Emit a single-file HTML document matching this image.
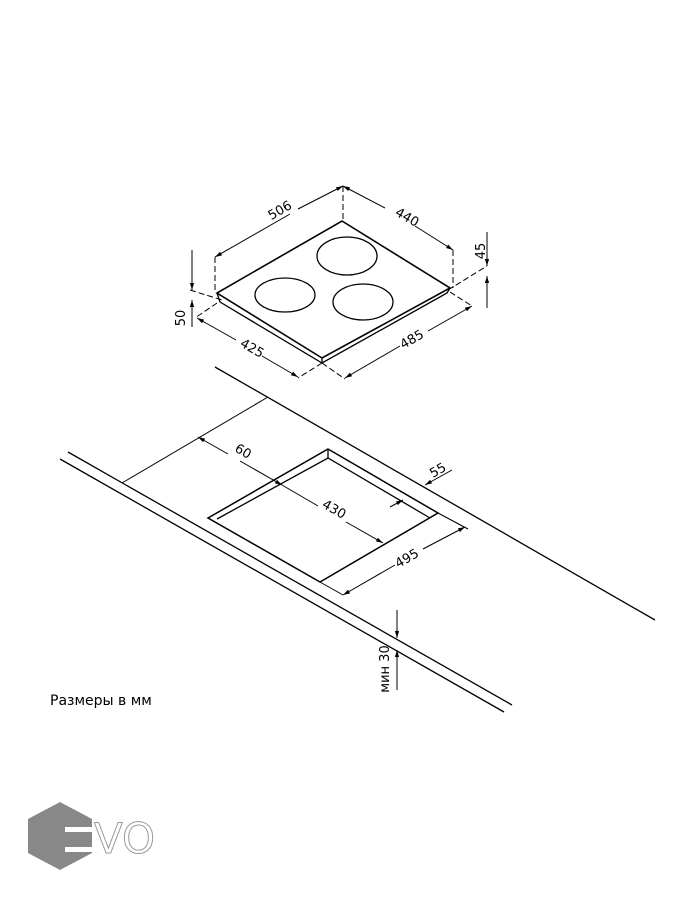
<!DOCTYPE html>
<html><head><meta charset="utf-8"><style>
html,body{margin:0;padding:0;background:#fff;}
svg{display:block;}
text{font-family:"DejaVu Sans","Liberation Sans",sans-serif;}
</style></head><body>
<svg width="700" height="900" viewBox="0 0 700 900" xmlns="http://www.w3.org/2000/svg">
<defs>
<marker id="a" viewBox="0 0 10 10" refX="10" refY="5" markerWidth="7" markerHeight="7" orient="auto-start-reverse"><path d="M0,2 L10,5 L0,8 z" fill="#000"/></marker>
</defs>
<g stroke="#000" fill="none" stroke-width="1.3">
<!-- hob -->
<polygon points="342,221 450,288 322,358 217,293" stroke-width="1.6"/>
<polyline points="217,293 220,302 322,363 447,293 450,288"/>
<line x1="322" y1="358" x2="322" y2="363"/>
<ellipse cx="347" cy="256" rx="30" ry="19"/>
<ellipse cx="285" cy="295" rx="30" ry="17"/>
<ellipse cx="363" cy="302" rx="30" ry="18"/>
</g>
<g stroke="#000" fill="none" stroke-width="1">
<!-- dashed extensions -->
<g stroke-dasharray="6,3">
<line x1="215" y1="257" x2="215" y2="293"/>
<line x1="343" y1="186" x2="343" y2="221"/>
<line x1="453" y1="250" x2="453" y2="288"/>
<line x1="217" y1="303" x2="195" y2="318"/>
<line x1="322" y1="363" x2="298" y2="378"/>
<line x1="322" y1="363" x2="345" y2="379"/>
<line x1="450" y1="292" x2="472" y2="306"/>
<line x1="190" y1="290" x2="222" y2="300"/>
<line x1="448" y1="290" x2="487" y2="266"/>
</g>
<!-- dims hob -->
<line x1="215" y1="257" x2="290" y2="214" marker-start="url(#a)"/>
<line x1="298" y1="209" x2="343" y2="186" marker-end="url(#a)"/>
<line x1="343" y1="186" x2="385" y2="208" marker-start="url(#a)"/>
<line x1="415" y1="226" x2="453" y2="250" marker-end="url(#a)"/>
<line x1="197" y1="318" x2="236" y2="340" marker-start="url(#a)"/>
<line x1="262" y1="356" x2="298" y2="377" marker-end="url(#a)"/>
<line x1="345" y1="378" x2="400" y2="346" marker-start="url(#a)"/>
<line x1="428" y1="331" x2="472" y2="306" marker-end="url(#a)"/>
<line x1="192" y1="250" x2="192" y2="290" marker-end="url(#a)"/>
<line x1="192" y1="327" x2="192" y2="300" marker-end="url(#a)"/>
<line x1="487" y1="232" x2="487" y2="266" marker-end="url(#a)"/>
<line x1="487" y1="308" x2="487" y2="276" marker-end="url(#a)"/>
</g>
<g font-size="13" fill="#000">
<text x="282" y="214" transform="rotate(-30 282 214)" text-anchor="middle">506</text>
<text x="405" y="221" transform="rotate(30 405 221)" text-anchor="middle">440</text>
<text x="250" y="352" transform="rotate(30 250 352)" text-anchor="middle">425</text>
<text x="414" y="343" transform="rotate(-30 414 343)" text-anchor="middle">485</text>
<text x="185" y="318" transform="rotate(-90 185 318)" text-anchor="middle">50</text>
<text x="485" y="251" transform="rotate(-90 485 251)" text-anchor="middle">45</text>
</g>
<!-- countertop -->
<g stroke="#000" fill="none" stroke-width="1.3">
<line x1="215" y1="367" x2="655" y2="620"/>
<line x1="68" y1="452" x2="512" y2="705"/>
<line x1="60" y1="459" x2="504" y2="712"/>
<polygon points="328,449 438,513 320,582 208,518" stroke-width="1.5"/>
<polyline points="217,519 328,458 430,518"/>
<line x1="328" y1="449" x2="328" y2="458"/>
</g>
<g stroke="#000" fill="none" stroke-width="1">
<line x1="122" y1="483" x2="268" y2="397"/>
<line x1="198" y1="437" x2="228" y2="454" marker-start="url(#a)"/>
<line x1="240" y1="461" x2="282" y2="485" marker-end="url(#a)"/>
<line x1="282" y1="485" x2="318" y2="506"/>
<line x1="346" y1="522" x2="383" y2="543" marker-end="url(#a)"/>
<line x1="320" y1="582" x2="343" y2="595"/>
<line x1="438" y1="513" x2="468" y2="529"/>
<line x1="343" y1="595" x2="395" y2="565" marker-start="url(#a)"/>
<line x1="423" y1="549" x2="465" y2="527" marker-end="url(#a)"/>
<line x1="452" y1="470" x2="425" y2="485" marker-end="url(#a)"/>
<line x1="390" y1="507" x2="403" y2="500" marker-end="url(#a)"/>
<line x1="397" y1="610" x2="397" y2="638" marker-end="url(#a)"/>
<line x1="397" y1="690" x2="397" y2="650" marker-end="url(#a)"/>
</g>
<g font-size="13" fill="#000">
<text x="241" y="455" transform="rotate(30 241 455)" text-anchor="middle">60</text>
<text x="332" y="513" transform="rotate(30 332 513)" text-anchor="middle">430</text>
<text x="409" y="562" transform="rotate(-30 409 562)" text-anchor="middle">495</text>
<text x="440" y="474" transform="rotate(-30 440 474)" text-anchor="middle">55</text>
<text x="389" y="669" transform="rotate(-90 389 669)" text-anchor="middle">мин 30</text>
</g>
<text x="50" y="705" font-size="14" fill="#000">Размеры в мм</text>
<!-- logo -->
<polygon points="60,802 92,819 92,853 60,870 28,853 28,819" fill="#888"/>
<rect x="65" y="827" width="28" height="5" fill="#fff"/>
<rect x="65" y="847" width="28" height="5" fill="#fff"/>
<text x="94" y="853" font-size="42" fill="#fff" stroke="#999" stroke-width="1" font-family="Liberation Sans, sans-serif">VO</text>
</svg>
</body></html>
